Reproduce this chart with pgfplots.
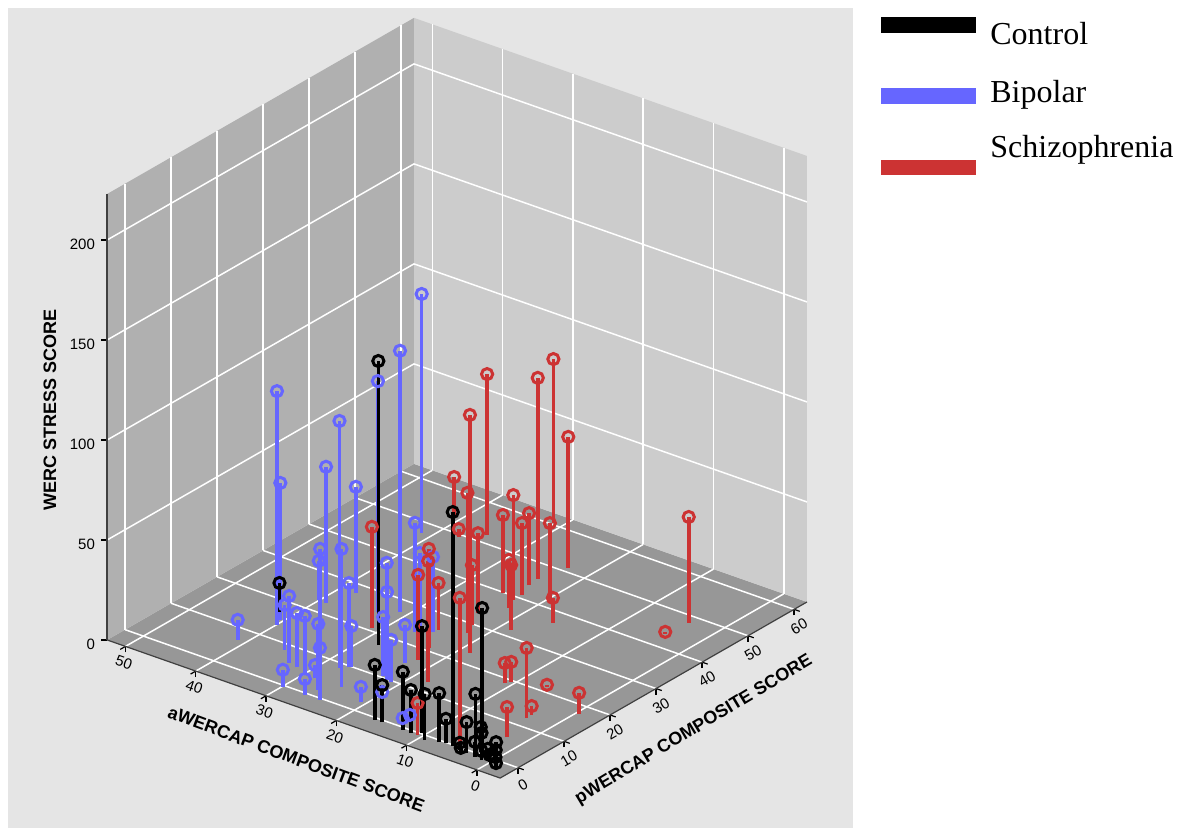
\documentclass[border=0pt]{standalone}
\usepackage{pgfplots}
\pgfplotsset{compat=1.18}
\usepackage{pgfplotstable}
\usepackage{fontspec}
\setmainfont{Liberation Serif}
\newfontfamily\sansf{Liberation Sans}
\definecolor{bgpanel}{HTML}{E5E5E5}
\definecolor{wallL}{HTML}{B0B0B0}
\definecolor{wallR}{HTML}{CCCCCC}
\definecolor{floorc}{HTML}{979797}
\definecolor{ctrl}{HTML}{000000}
\definecolor{bip}{HTML}{6666FF}
\definecolor{sch}{HTML}{CC3333}

% a = aWERCAP, p = pWERCAP, z = WERC stress
\pgfplotstableread{
a p z
41.1 6.9 10
39.9 13.6 117
40.4 15.1 68.5
29.9 -0.4 8.5
33.0 5.7 33.5
35.4 8.4 22.5
31.7 5.4 27
29.8 4.2 29.5
26.7 -0.5 8
24.6 -0.4 75.5
40.1 23.0 19.5
26.3 1.8 33
27.7 4.3 16
28.4 4.3 6.5
39.0 22.9 68
27.8 8.7 123.5
24.7 4.4 69
27.1 9.7 42
26.9 9.9 20.5
37.9 27.7 53
20.7 2.5 7.5
33.0 25.0 115.5
21.8 9.8 58.5
23.0 11.7 40
22.7 10.4 29.5
21.1 9.7 21
19.1 4.7 4
22.8 15.3 19
31.1 26.9 130.5
26.7 23.4 54.5
25.0 21.9 43.5
25.1 24.9 37.5
41.3 47.2 119.5
13.9 1.2 2
13.6 2.3 2.5
}\bipolar

\pgfplotstableread{
a p z
31.1 20.8 50.5
23.0 20.8 49.5
17.8 12.7 60.5
22.1 17.1 42.5
24.9 25.8 23.5
10.6 -0.6 16
41.2 54.1 19
21.9 27.5 70
18.6 23.0 119
37.4 49.3 4
24.0 33.0 40
22.7 29.7 30
4.6 -0.6 76
35.2 52.1 80.5
22.9 39.0 52.5
24.9 39.8 39
23.8 43.8 36
22.9 40.9 36
22.1 36.8 24
18.5 31.8 32.5
24.0 46.0 100.5
31.2 60.4 82
19.2 41.3 40
15.9 36.9 12.5
23.0 51.1 65.5
3.9 48.1 53
4.3 43.6 1
3.6 12.4 35
10.9 18.8 10
10.5 19.6 10
6.6 21.4 1
-0.4 17.7 10.5
3.6 13.5 4.5
2.4 6.3 15
}\schizo

\pgfplotstableread{
a p z
41.7 16.9 14.5
27.9 17.3 142
16.7 -0.6 27.5
15.7 -0.5 18.5
12.7 -0.6 29
11.5 -0.7 21.5
10.5 0.2 53.5
9.2 -1.2 23
7.6 -0.5 24.5
6.9 -0.1 12
5.8 -0.3 117
4.6 -0.6 3.5
3.5 -0.8 15.5
2.9 0.2 29
2.6 1.2 71
2.4 0.6 12.5
1.9 0.0 11
2.2 -1.0 7.5
0.9 -0.2 4.5
0.1 -1.0 3.5
-0.5 -0.5 10
-0.9 -1.2 7.5
-1.2 -1.7 5
-1.4 -1.9 2.5
1.1 -1.2 4.5
4.2 -1.0 2
}\control

\begin{document}
\begin{tikzpicture}
\path[use as bounding box] (-247.45bp,-35.7bp) rectangle (348.55bp,379.8bp);
\fill[white] (-247.45bp,-35.7bp) rectangle (348.55bp,379.8bp);
\fill[bgpanel] (-243.45bp,-34.2bp) rectangle (179.05bp,375.8bp);
\begin{axis}[
  anchor=origin, at={(0,0)},
  x={(-3.515bp,1.235bp)}, y={(2.30bp,1.32bp)}, z={(0bp,1bp)},
  xmin=-3.3, xmax=52.6, ymin=-3.9, ymax=62.8, zmin=0, zmax=223,
  clip=false,
  axis line style={draw=none},
  xtick={0,10,...,50}, ytick={0,10,...,60}, ztick={0,50,...,200},
  tick pos=left,
  tick align=outside, major tick length=3bp,
  tick style={black, line width=0.6bp},
  ztick style={draw=none},
  ticklabel style={font=\sansf\fontsize{7.5bp}{9bp}\selectfont},
  /pgf/number format/assume math mode=true,
  xticklabel style={xshift=5bp, yshift=-1bp, rotate=-19.4},
  yticklabel style={xshift=-4bp, yshift=-2.5bp, rotate=29.9},
]
% walls
\fill[floorc] (axis cs:-3.3,-3.9,0) -- (axis cs:52.6,-3.9,0) -- (axis cs:52.6,62.8,0) -- (axis cs:-3.3,62.8,0) -- cycle;
\fill[wallL] (axis cs:52.6,-3.9,0) -- (axis cs:52.6,62.8,0) -- (axis cs:52.6,62.8,223) -- (axis cs:52.6,-3.9,223) -- cycle;
\fill[wallR] (axis cs:-3.3,62.8,0) -- (axis cs:52.6,62.8,0) -- (axis cs:52.6,62.8,223) -- (axis cs:-3.3,62.8,223) -- cycle;
\pgfplotsinvokeforeach{0,10,20,30,40,50}{
  \draw[white, line width=0.75bp] (axis cs:#1,-3.9,0) -- (axis cs:#1,62.8,0);
  \draw[white, line width=0.75bp] (axis cs:#1,62.8,0) -- (axis cs:#1,62.8,223);
}
\pgfplotsinvokeforeach{0,10,20,30,40,50,60}{
  \draw[white, line width=0.75bp] (axis cs:-3.3,#1,0) -- (axis cs:52.6,#1,0);
  \draw[white, line width=0.75bp] (axis cs:52.6,#1,0) -- (axis cs:52.6,#1,223);
}
\pgfplotsinvokeforeach{50,100,150,200}{
  \draw[white, line width=0.75bp] (axis cs:52.6,-3.9,#1) -- (axis cs:52.6,62.8,#1) -- (axis cs:-3.3,62.8,#1);
}
\pgfplotsinvokeforeach{0,50,100,150,200}{
  \draw[black, line width=0.6bp] (axis cs:52.6,-3.9,#1) -- ++(-3bp,0bp);
}
\draw[black!75, line width=0.6bp] (axis cs:52.6,-3.9,0) -- (axis cs:-3.3,-3.9,0) -- (axis cs:-3.3,62.8,0);
\draw[black!75, line width=0.8bp] (axis cs:52.6,-3.9,0) -- (axis cs:52.6,-3.9,223);
% data: stems and markers
\addplot3[bip, line width=1.8bp, -, quiver={u=0,v=0,w=\thisrow{z}}] table[x=a,y=p,z expr=0] \bipolar;
\addplot3[only marks, mark=o, mark size=2.8bp, bip, mark options={line width=1.5bp}] table[x=a,y=p,z=z] \bipolar;
\addplot3[sch, line width=1.8bp, -, quiver={u=0,v=0,w=\thisrow{z}}] table[x=a,y=p,z expr=0] \schizo;
\addplot3[only marks, mark=o, mark size=2.8bp, sch, mark options={line width=1.5bp}] table[x=a,y=p,z=z] \schizo;
\addplot3[ctrl, line width=1.8bp, -, quiver={u=0,v=0,w=\thisrow{z}}] table[x=a,y=p,z expr=0] \control;
\addplot3[only marks, mark=o, mark size=2.8bp, ctrl, mark options={line width=1.5bp}] table[x=a,y=p,z=z] \control;
\end{axis}
% axis titles
\node[font=\sansf\bfseries\fontsize{9bp}{10bp}\selectfont, rotate=90] at (-222.45bp,174.8bp) {WERC STRESS SCORE};
\node[font=\sansf\bfseries\fontsize{9bp}{10bp}\selectfont, rotate=-20.4] at (-99.3bp,0.3bp) {aWERCAP COMPOSITE SCORE};
\node[font=\sansf\bfseries\fontsize{9bp}{10bp}\selectfont, rotate=31] at (99.5bp,14.8bp) {pWERCAP COMPOSITE SCORE};
% legend
\fill[ctrl] (192.9bp,363.45bp) rectangle (240.55bp,371.15bp);
\fill[bip] (192.9bp,327.8bp) rectangle (240.55bp,335.65bp);
\fill[sch] (192.9bp,292.3bp) rectangle (240.55bp,299.8bp);
\node[anchor=base west, inner sep=0pt, font=\fontsize{16bp}{18bp}\selectfont] at (247.55bp,357.3bp) {Control};
\node[anchor=base west, inner sep=0pt, font=\fontsize{16bp}{18bp}\selectfont] at (247.55bp,328.3bp) {Bipolar};
\node[anchor=base west, inner sep=0pt, font=\fontsize{16bp}{18bp}\selectfont] at (247.55bp,300.8bp) {Schizophrenia};
\end{tikzpicture}
\end{document}
